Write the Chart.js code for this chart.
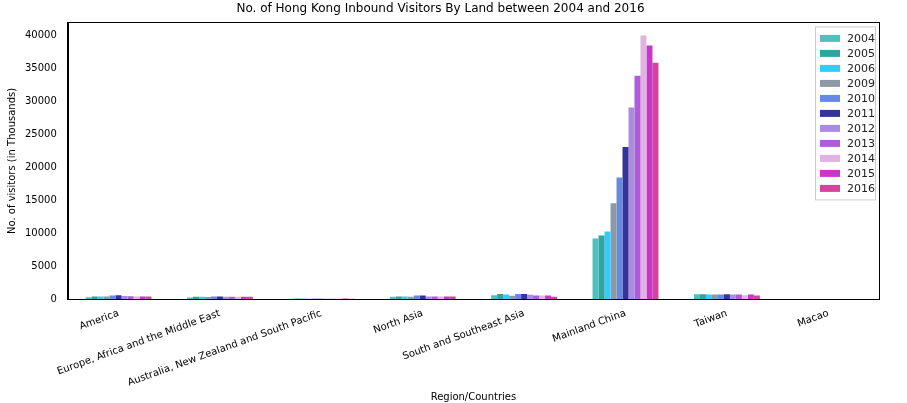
<!DOCTYPE html>
<html><head><meta charset="utf-8">
<script src="https://cdn.jsdelivr.net/npm/chart.js@4"></script>
<style>body{margin:0;background:#fff}#wrap{width:907px;height:403px}</style>
</head><body><div id="wrap"><canvas id="c"></canvas></div>
<script>
const regions = ['America', 'Europe, Africa and the Middle East', 'Australia, New Zealand and South Pacific', 'North Asia', 'South and Southeast Asia', 'Mainland China', 'Taiwan', 'Macao'];
const years = ['2004', '2005', '2006', '2009', '2010', '2011', '2012', '2013', '2014', '2015', '2016'];
const colors = ['#4cc1bd', '#31a3a0', '#33ccff', '#8b9aa6', '#6788e3', '#333399', '#a98ce0', '#b05bd9', '#e2b3e2', '#cc33cc', '#d4449c'];
const v2004 = [330, 280, 120, 420, 640, 9240, 770, 5];
const v2005 = [450, 420, 150, 430, 820, 9700, 770, 5];
const v2006 = [450, 420, 140, 430, 760, 10300, 760, 5];
const v2009 = [430, 370, 120, 390, 560, 14600, 730, 5];
const v2010 = [610, 450, 130, 600, 810, 18500, 760, 5];
const v2011 = [620, 430, 120, 600, 840, 23100, 770, 5];
const v2012 = [540, 420, 110, 450, 720, 29100, 740, 5];
const v2013 = [480, 420, 120, 450, 610, 33900, 740, 5];
const v2014 = [430, 410, 110, 430, 580, 40000, 640, 5];
const v2015 = [440, 420, 130, 460, 600, 38500, 750, 5];
const v2016 = [430, 400, 120, 440, 420, 35900, 590, 5];
const series = [v2004, v2005, v2006, v2009, v2010, v2011, v2012, v2013, v2014, v2015, v2016];
const yTicks = [0, 5000, 10000, 15000, 20000, 25000, 30000, 35000, 40000];

// legend inside the plot, top right, plus full frame around plot area
const boxLegend = {
  id: 'boxLegend',
  afterDraw(chart) {
    const ctx = chart.ctx, a = chart.chartArea;
    ctx.save();
    ctx.strokeStyle = '#000';
    ctx.lineWidth = 1;
    ctx.strokeRect(Math.round(a.left) + .5, Math.round(a.top) + .5, Math.round(a.right - a.left), Math.round(a.bottom - a.top));
    const rowH = 15, w = 60, h = years.length * rowH + 8;
    const x0 = a.right - w - 4, y0 = a.top + 4;
    ctx.fillStyle = 'rgba(255,255,255,0.85)';
    ctx.strokeStyle = '#ccc';
    ctx.fillRect(x0, y0, w, h);
    ctx.strokeRect(x0 + .5, y0 + .5, w, h);
    ctx.font = '11px "DejaVu Sans"';
    ctx.textBaseline = 'middle';
    chart.data.datasets.forEach((d, i) => {
      const y = y0 + 5 + i * rowH + rowH / 2;
      ctx.fillStyle = d.backgroundColor;
      ctx.fillRect(x0 + 5, y - 4, 20, 7);
      ctx.fillStyle = '#222';
      ctx.fillText(d.label, x0 + 32, y);
    });
    ctx.restore();
  }
};

new Chart(document.getElementById('c'), {
  type: 'bar',
  data: {
    labels: regions,
    datasets: series.map((s, i) => ({ label: years[i], data: s, backgroundColor: colors[i], categoryPercentage: 0.65, barPercentage: 1 }))
  },
  options: {
    responsive: true, maintainAspectRatio: false, animation: false,
    layout: { padding: { left: 2, right: 28, top: 2, bottom: 0 } },
    plugins: {
      legend: { display: false },
      title: { display: true, text: 'No. of Hong Kong Inbound Visitors By Land between 2004 and 2016', color: '#000', font: { size: 12, family: 'DejaVu Sans', weight: 'normal' }, padding: { top: 0, bottom: 6 } },
      tooltip: { enabled: false }
    },
    scales: {
      x: {
        grid: { display: false },
        border: { color: '#000' },
        ticks: { color: '#000', font: { size: 10, family: 'DejaVu Sans' }, minRotation: 20, maxRotation: 20, autoSkip: false, padding: 0 },
        title: { display: true, text: 'Region/Countries', color: '#000', font: { size: 10, family: 'DejaVu Sans' }, padding: { top: 2, bottom: 0 } }
      },
      y: {
        min: 0, max: 42000,
        grid: { display: false },
        border: { color: '#000' },
        afterBuildTicks: ax => { ax.ticks = yTicks.map(v => ({ value: v })); },
        ticks: { color: '#000', font: { size: 10, family: 'DejaVu Sans' }, callback: v => String(v) },
        title: { display: true, text: 'No. of visitors (in Thousands)', color: '#000', font: { size: 10, family: 'DejaVu Sans' } }
      }
    }
  },
  plugins: [boxLegend]
});
</script></body></html>
